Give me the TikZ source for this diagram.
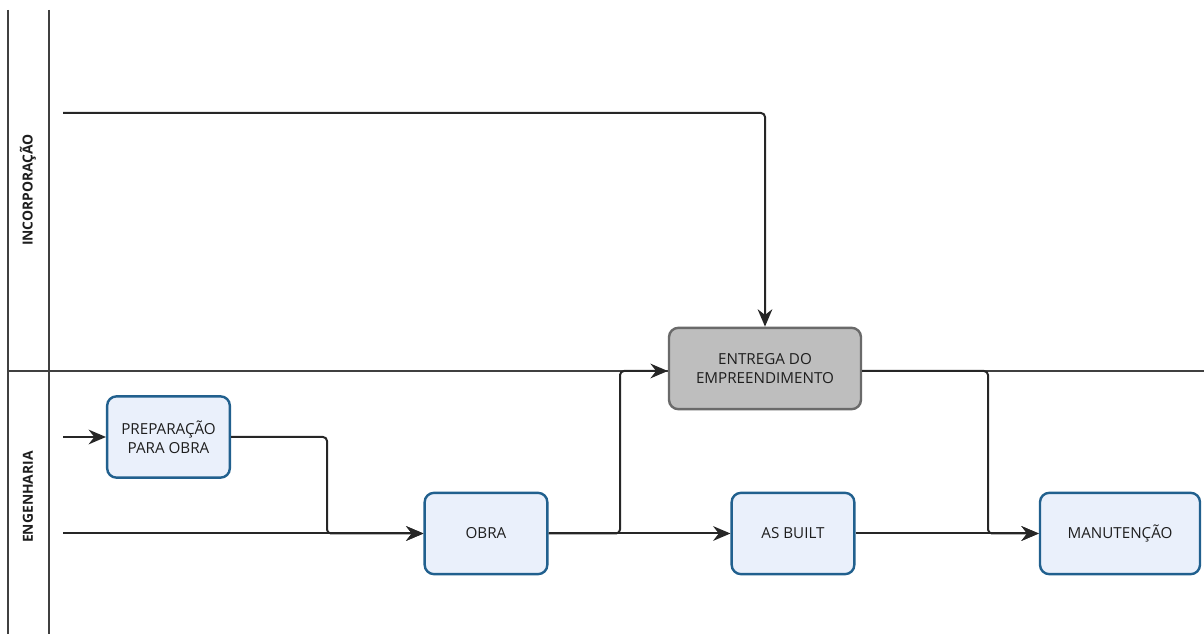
\documentclass[tikz,border=0pt]{standalone}
\usepackage{fontspec}
\setmainfont{Open Sans}
\usetikzlibrary{arrows.meta}
\definecolor{taskfill}{HTML}{EAF0FB}
\definecolor{taskline}{HTML}{21608E}
\definecolor{grayfill}{HTML}{BEBEBE}
\definecolor{grayline}{HTML}{6A6A6A}
\definecolor{lanecol}{HTML}{404040}
\definecolor{txt}{HTML}{1E1E1E}
\tikzset{
  task/.style={draw=taskline, fill=taskfill, line width=1.8pt, rounded corners=7pt,
    minimum width=92pt, minimum height=61pt, align=center, font=\fontsize{11.4}{14}\selectfont, text=txt},
  graytask/.style={task, draw=grayline, fill=grayfill, minimum width=144pt},
  flow/.style={draw=black!85, line width=1.5pt, rounded corners=3pt,
    -{Stealth[length=13pt,width=11pt]}},
  lane/.style={draw=lanecol, line width=1.3pt},
  lanelabel/.style={rotate=90, font=\bfseries\fontsize{10.4}{12}\selectfont, text=txt}
}
\begin{document}
\begin{tikzpicture}[x=0.75pt,y=-0.75pt]
  \useasboundingbox (0,0) rectangle (1204,634);
  % swimlane frame
  \draw[lane] (8,10) -- (8,634);
  \draw[lane] (49,10) -- (49,634);
  \draw[lane] (8,371) -- (1204,371);
  \node[lanelabel] (lanInc) at (28,190) {INCORPORAÇÃO};
  \node[lanelabel] (lanEng) at (28,497) {ENGENHARIA};
  % tasks
  \node[task] (prep) at (168.5,437) {PREPARAÇÃO\\PARA OBRA};
  \node[task] (obra) at (486,533.5) {OBRA};
  \node[task] (asb) at (793,533.5) {AS BUILT};
  \node[task, minimum width=120pt] (man) at (1120,533.5) {MANUTENÇÃO};
  \node[graytask] (ent) at (765,368.5) {ENTREGA DO\\EMPREENDIMENTO};
  % free ends of incoming flows
  \coordinate (inTop) at (63,113);
  \coordinate (inPrep) at (63,437);
  \coordinate (inObra) at (63,533.5);
  % flows
  \draw[flow] (inTop) -| (ent.north);
  \draw[flow] (inPrep) -- (prep.west);
  \draw[flow] (inObra) -- (obra.west);
  \draw[flow] (prep.east) -| (327,533.5) -- (obra.west);
  \draw[flow] (obra.east) -- (asb.west);
  \draw[flow] (obra.east) -| (620,371) -- (ent.west |- 0,371);
  \draw[flow] (asb.east) -- (man.west);
  \draw[flow] (ent.east |- 0,371) -| (988,533.5) -- (man.west);
\end{tikzpicture}
\end{document}
